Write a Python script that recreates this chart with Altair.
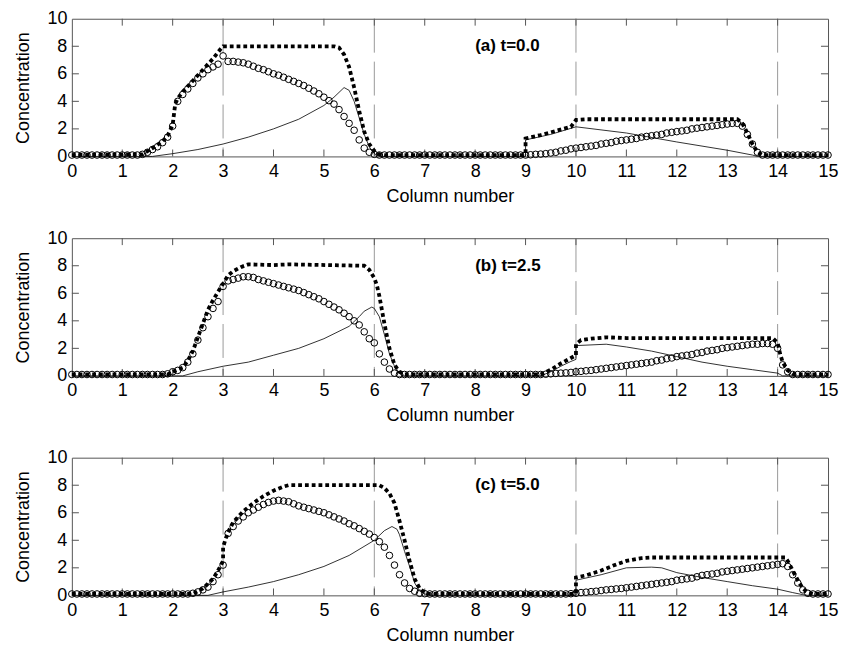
import altair as alt
import pandas as pd

# ---------------- data ----------------
X_GRID = [round(i * 0.1, 1) for i in range(151)]  # column position of each circle marker

# circles (component 1), one value per 0.1 column step
CIRC_A = [0.1, 0.1, 0.1, 0.1, 0.1, 0.1, 0.1, 0.1, 0.1, 0.1, 0.1, 0.1, 0.1, 0.1,
          0.15, 0.3, 0.5, 0.7, 1.0, 1.4, 2.2, 4.0, 4.5, 4.9, 5.3, 5.7, 6.0, 6.3, 6.5, 6.7,
          7.3, 6.9, 6.9, 6.85, 6.8, 6.7, 6.55, 6.4, 6.3, 6.15,
          6.0, 5.9, 5.75, 5.6, 5.45, 5.3, 5.15, 4.95, 4.75, 4.55,
          4.3, 4.05, 3.8, 3.4, 2.9, 2.4, 1.9, 1.2, 0.6, 0.3, 0.15,
          0.1, 0.1, 0.1, 0.1, 0.1, 0.1, 0.1, 0.1, 0.1, 0.1, 0.1, 0.1, 0.1, 0.1, 0.1,
          0.1, 0.1, 0.1, 0.1, 0.1, 0.1, 0.1, 0.1, 0.1, 0.1, 0.1, 0.1, 0.1, 0.1,
          0.1, 0.12, 0.15, 0.17, 0.2, 0.25, 0.3, 0.4, 0.45, 0.55,
          0.6, 0.65, 0.7, 0.75, 0.8, 0.9, 0.95, 1.0, 1.1, 1.15,
          1.2, 1.25, 1.3, 1.4, 1.45, 1.5, 1.55, 1.6, 1.7, 1.75,
          1.8, 1.85, 1.9, 2.0, 2.05, 2.1, 2.15, 2.2, 2.25, 2.3,
          2.35, 2.4, 2.4, 2.2, 1.6, 0.9, 0.3, 0.1, 0.1, 0.1,
          0.1, 0.1, 0.1, 0.1, 0.1, 0.1, 0.1, 0.1, 0.1, 0.1, 0.1]
CIRC_B = [0.1, 0.1, 0.1, 0.1, 0.1, 0.1, 0.1, 0.1, 0.1, 0.1, 0.1, 0.1, 0.1, 0.1, 0.1, 0.1, 0.1, 0.1, 0.1,
          0.15, 0.3, 0.4, 0.6, 1.0, 1.6, 2.6, 3.5, 4.3, 4.9, 5.4,
          6.5, 6.9, 7.0, 7.1, 7.2, 7.2, 7.15, 7.0, 6.9, 6.8,
          6.7, 6.6, 6.5, 6.4, 6.3, 6.2, 6.05, 5.9, 5.75, 5.6,
          5.4, 5.2, 5.0, 4.8, 4.55, 4.3, 4.0, 3.7, 3.2, 2.7,
          2.4, 1.6, 1.0, 0.5, 0.2, 0.1,
          0.1, 0.1, 0.1, 0.1, 0.1, 0.1, 0.1, 0.1, 0.1, 0.1, 0.1, 0.1, 0.1, 0.1,
          0.1, 0.1, 0.1, 0.1, 0.1, 0.1, 0.1, 0.1, 0.1, 0.1, 0.1, 0.1, 0.1,
          0.1, 0.12, 0.15, 0.18, 0.2, 0.22, 0.25,
          0.3, 0.33, 0.37, 0.4, 0.45, 0.5, 0.55, 0.6, 0.65, 0.7,
          0.75, 0.8, 0.85, 0.9, 0.95, 1.0, 1.1, 1.15, 1.25, 1.3,
          1.4, 1.45, 1.5, 1.55, 1.65, 1.7, 1.8, 1.85, 1.9, 2.0,
          2.05, 2.1, 2.15, 2.2, 2.25, 2.3, 2.3, 2.35, 2.35, 2.3,
          2.0, 0.8, 0.3, 0.1, 0.1, 0.1, 0.1, 0.1, 0.1, 0.1, 0.1]
CIRC_C = [0.1, 0.1, 0.1, 0.1, 0.1, 0.1, 0.1, 0.1, 0.1, 0.1, 0.1, 0.1,
          0.1, 0.1, 0.1, 0.1, 0.1, 0.1, 0.1, 0.1, 0.1, 0.1, 0.1, 0.1,
          0.15, 0.25, 0.4, 0.6, 1.0, 1.5,
          2.2, 4.5, 5.0, 5.4, 5.7, 6.0, 6.2, 6.4, 6.6, 6.75,
          6.85, 6.9, 6.85, 6.8, 6.65, 6.5, 6.4, 6.3, 6.2, 6.1,
          6.0, 5.85, 5.7, 5.55, 5.4, 5.2, 5.05, 4.85, 4.65, 4.45,
          4.2, 3.9, 3.5, 2.9, 2.2, 1.5, 0.9, 0.5, 0.3, 0.15,
          0.12,
          0.1, 0.1, 0.1, 0.1, 0.1, 0.1, 0.1, 0.1, 0.1, 0.1, 0.1, 0.1, 0.1, 0.1,
          0.1, 0.1, 0.1, 0.1, 0.1, 0.1, 0.1, 0.1, 0.1, 0.1, 0.1, 0.1, 0.1, 0.1,
          0.12,
          0.15, 0.2, 0.23, 0.27, 0.3, 0.35, 0.4, 0.43, 0.47, 0.5,
          0.55, 0.6, 0.65, 0.7, 0.75, 0.8, 0.85, 0.9, 0.95, 1.0,
          1.1, 1.15, 1.2, 1.25, 1.35, 1.45, 1.5, 1.55, 1.6, 1.7,
          1.75, 1.8, 1.85, 1.9, 1.95, 2.0, 2.05, 2.1, 2.15, 2.2,
          2.25, 2.3, 2.1, 1.5, 0.9, 0.4, 0.15, 0.1, 0.1, 0.1, 0.1]

# dotted total concentration
TOT_A_X = [0, 1.4, 1.6, 1.8, 1.9, 2.0, 2.05, 2.1, 2.2, 2.4, 2.6, 2.8, 2.95, 3.0, 5.2, 5.3, 5.4, 5.5,
           5.6, 5.7, 5.8, 5.9, 6.0, 6.1, 6.2, 8.95, 9.0, 9.0, 9.3, 9.6, 9.9, 10.0, 10.2, 13.2, 13.3,
           13.4, 13.5, 13.6, 13.7, 15.0]
TOT_A_Y = [0.1, 0.15, 0.6, 1.1, 1.5, 2.3, 3.8, 4.2, 4.7, 5.5, 6.3, 7.1, 7.8, 8.0, 8.0, 7.9, 7.4, 6.5,
           5.0, 3.3, 1.8, 0.9, 0.4, 0.15, 0.1, 0.1, 0.2, 1.3, 1.55, 1.85, 2.15, 2.65, 2.7, 2.7, 2.4,
           1.7, 0.9, 0.3, 0.1, 0.1]
TOT_B_X = [0, 1.9, 2.0, 2.2, 2.3, 2.4, 2.5, 2.6, 2.7, 2.8, 2.9, 3.0, 3.1, 3.2, 3.35, 3.5, 4.0, 4.3, 5.8,
           5.9, 6.0, 6.05, 6.1, 6.15, 6.2, 6.3, 6.4, 6.5, 6.6, 9.3, 9.5, 9.7, 9.9, 10.0, 10.0, 10.1,
           10.3, 10.6, 11.0, 13.9, 14.0, 14.05, 14.1, 14.2, 14.3, 14.4, 15.0]
TOT_B_Y = [0.1, 0.1, 0.3, 0.6, 1.1, 1.8, 2.8, 3.8, 4.8, 5.5, 6.1, 6.7, 7.3, 7.6, 7.9, 8.1, 8.05, 8.1, 8.0,
           7.7, 7.1, 6.6, 5.8, 4.8, 3.8, 2.0, 0.8, 0.3, 0.1, 0.1, 0.45, 0.9, 1.3, 1.5, 2.3, 2.6,
           2.7, 2.8, 2.75, 2.75, 2.4, 1.6, 1.0, 0.4, 0.15, 0.1, 0.1]
TOT_C_X = [0, 2.4, 2.6, 2.8, 2.9, 3.0, 3.0, 3.05, 3.1, 3.2, 3.4, 3.6, 3.8, 4.0, 4.2, 4.3, 6.1, 6.2, 6.3,
           6.4, 6.5, 6.6, 6.7, 6.8, 6.9, 7.0, 7.1, 9.95, 10.0, 10.0, 10.2, 10.5, 10.8, 11.0, 11.3,
           11.5, 14.15, 14.2, 14.3, 14.4, 14.5, 14.6, 14.7, 15.0]
TOT_C_Y = [0.1, 0.1, 0.5, 1.2, 1.8, 2.5, 3.5, 4.1, 4.6, 5.3, 6.1, 6.7, 7.2, 7.6, 7.9, 8.0, 8.0, 7.8, 7.4,
           6.7, 5.4, 4.0, 2.5, 1.2, 0.5, 0.2, 0.1, 0.1, 0.15, 1.3, 1.45, 1.8, 2.25, 2.5, 2.7,
           2.75, 2.75, 2.5, 1.8, 1.1, 0.5, 0.2, 0.1, 0.1]

# thin solid line (component 2)
THIN_A_X = [0, 1.6, 2.0, 2.5, 3.0, 3.5, 4.0, 4.5, 5.0, 5.2, 5.4, 5.5, 5.6, 5.7, 5.8, 5.9, 6.0, 6.1,
            9.0, 9.0, 9.5, 10.0, 11.0, 12.0, 13.0, 13.5, 13.6, 15.0]
THIN_A_Y = [0, 0, 0.2, 0.5, 0.9, 1.4, 2.0, 2.7, 3.7, 4.3, 5.0, 4.8, 4.0, 2.8, 1.6, 0.7, 0.2, 0,
            0, 1.2, 1.6, 2.15, 1.7, 1.05, 0.45, 0.1, 0, 0]
THIN_B_X = [0, 2.2, 2.5, 3.0, 3.5, 4.0, 4.5, 5.0, 5.5, 5.7, 5.8, 5.95, 6.0, 6.1, 6.2, 6.3, 6.4, 6.5,
            6.6, 9.3, 9.5, 9.7, 9.9, 10.0, 10.0, 10.6, 11.0, 11.5, 12.0, 12.5, 13.0, 13.5, 14.0,
            14.1, 15.0]
THIN_B_Y = [0, 0, 0.3, 0.7, 1.0, 1.5, 2.0, 2.7, 3.6, 4.3, 4.7, 5.0, 4.9, 4.3, 3.0, 1.6, 0.7, 0.2,
            0, 0, 0.3, 0.7, 1.05, 1.2, 2.2, 2.3, 2.1, 1.8, 1.4, 1.0, 0.7, 0.45, 0.2,
            0, 0]
THIN_C_X = [0, 2.7, 3.0, 3.5, 4.0, 4.5, 5.0, 5.5, 6.0, 6.2, 6.35, 6.45, 6.5, 6.6, 6.7, 6.8, 6.9, 7.0,
            7.1, 10.0, 10.0, 10.5, 11.0, 11.5, 11.7, 12.0, 12.5, 13.0, 13.5, 14.0, 14.3, 14.5, 14.6,
            15.0]
THIN_C_Y = [0, 0, 0.25, 0.6, 1.0, 1.5, 2.1, 2.9, 4.0, 4.7, 5.0, 4.8, 4.4, 3.2, 2.1, 0.9, 0.3, 0.1,
            0, 0, 1.1, 1.5, 2.0, 2.05, 2.0, 1.65, 1.3, 1.0, 0.7, 0.45, 0.2, 0.05, 0,
            0]

BOUNDARIES = [3, 6, 10, 14]
PANEL_LABELS = ["(a) t=0.0", "(b) t=2.5", "(c) t=5.0"]
X_TICKS = [0, 1, 2, 3, 4, 5, 6, 7, 8, 9, 10, 11, 12, 13, 14, 15]
Y_TICKS = [0, 2, 4, 6, 8, 10]

for arr in (CIRC_A, CIRC_B, CIRC_C):
    assert len(arr) == len(X_GRID), len(arr)

# ---------------- styling ----------------
FONT = "Liberation Sans"
W, H = 758, 138
XMIN, XMAX, YMIN, YMAX = 0, 15, 0, 10
TICK_DY = 0.5    # inward x-tick length in y units
TICK_DX = 0.14   # inward y-tick length in x units
LABEL_X, LABEL_Y = 8.0, 8.0

xs = alt.Scale(domain=[XMIN, XMAX], nice=False, zero=False)
ys = alt.Scale(domain=[YMIN, YMAX], nice=False)
x_axis = alt.Axis(values=X_TICKS, title="Column number", ticks=False, domain=False, grid=False,
                  labelFontSize=18, titleFontSize=18, titleFontWeight="normal",
                  labelFont=FONT, titleFont=FONT, labelColor="black", titleColor="black",
                  labelPadding=6, titlePadding=7, format="d", labelFlush=False)
y_axis = alt.Axis(values=Y_TICKS, title="Concentration", ticks=False, domain=False, grid=False,
                  labelFontSize=18, titleFontSize=18, titleFontWeight="normal",
                  labelFont=FONT, titleFont=FONT, labelColor="black", titleColor="black",
                  labelPadding=5, titlePadding=14, format="d")


def panel(circ, tx, ty, hx, hy, label):
    df_c = pd.DataFrame({"x": X_GRID, "y": circ})
    df_t = pd.DataFrame({"x": tx, "y": ty, "i": list(range(len(tx)))})
    df_h = pd.DataFrame({"x": hx, "y": hy, "i": list(range(len(hx)))})
    df_b = pd.DataFrame({"x": BOUNDARIES})
    df_lab = pd.DataFrame({"x": [LABEL_X], "y": [LABEL_Y], "t": [label]})
    xt = pd.DataFrame({"x": X_TICKS[1:-1]})
    yt = pd.DataFrame({"y": Y_TICKS[1:-1]})
    bot = xt.assign(y=YMIN, y2=YMIN + TICK_DY)
    top = xt.assign(y=YMAX - TICK_DY, y2=YMAX)
    lef = yt.assign(x=XMIN, x2=XMIN + TICK_DX)
    rig = yt.assign(x=XMAX - TICK_DX, x2=XMAX)

    X = alt.X("x:Q", scale=xs, axis=x_axis)
    Y = alt.Y("y:Q", scale=ys, axis=y_axis)

    base_lines = alt.Chart(df_b).mark_rule(color="#9a9a9a", strokeWidth=1, strokeDash=[34, 9]).encode(x=X)
    thin = alt.Chart(df_h).mark_line(color="black", strokeWidth=0.8).encode(x=X, y=Y, order="i:Q")
    circ_m = alt.Chart(df_c).mark_point(shape="circle", filled=False, color="black", size=44,
                                        strokeWidth=1, opacity=1).encode(x=X, y=Y)
    tot = alt.Chart(df_t).mark_line(color="black", strokeWidth=3.8, strokeDash=[3.8, 3.0]).encode(
        x=X, y=Y, order="i:Q")
    lab = alt.Chart(df_lab).mark_text(align="left", baseline="middle", fontSize=17, fontWeight="bold",
                                      font=FONT, color="black").encode(x=X, y=Y, text="t:N")
    tick_x = alt.Chart(pd.concat([bot, top])).mark_rule(color="#555", strokeWidth=1).encode(
        x=X, y=Y, y2="y2:Q")
    tick_y = alt.Chart(pd.concat([lef, rig])).mark_rule(color="#555", strokeWidth=1).encode(
        x=X, x2="x2:Q", y=Y)
    return alt.layer(base_lines, tick_x, tick_y, thin, circ_m, tot, lab).properties(width=W, height=H)


chart = alt.vconcat(
    panel(CIRC_A, TOT_A_X, TOT_A_Y, THIN_A_X, THIN_A_Y, PANEL_LABELS[0]),
    panel(CIRC_B, TOT_B_X, TOT_B_Y, THIN_B_X, THIN_B_Y, PANEL_LABELS[1]),
    panel(CIRC_C, TOT_C_X, TOT_C_Y, THIN_C_X, THIN_C_Y, PANEL_LABELS[2]),
    spacing=22,
).properties(
    padding={"left": 6, "top": 0, "right": 0, "bottom": 0},
    background="white",
).configure_view(
    stroke="#555", strokeWidth=1
)

chart.save("out.html", embed_options={"renderer": "svg", "actions": False})
